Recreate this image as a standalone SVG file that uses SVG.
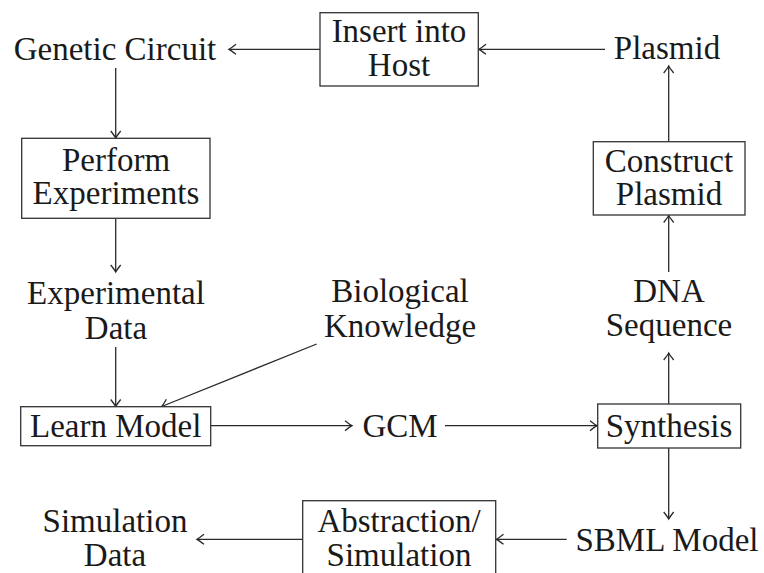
<svg xmlns="http://www.w3.org/2000/svg" width="764" height="573" viewBox="0 0 764 573">
<style>
text{font-family:"Liberation Serif","Times New Roman",serif;font-size:33px;fill:#1a1a1a;text-anchor:middle}
.box{fill:#fff;stroke:#333;stroke-width:1.3}
.edge{stroke:#2a2a2a;stroke-width:1.3;fill:none;marker-end:url(#arr)}
</style>
<defs>
<marker id="arr" viewBox="-8 -6 10 12" refX="0" refY="0" markerWidth="10" markerHeight="12" markerUnits="userSpaceOnUse" orient="auto">
<path d="M-7,-5 Q-2,-1 0,0 Q-2,1 -7,5" fill="none" stroke="#2a2a2a" stroke-width="1.3"/>
</marker>
</defs>
<rect width="764" height="573" fill="#fff"/>
<g id="connectors">
<line class="edge" x1="320" y1="49.3" x2="229" y2="49.3"/>
<line class="edge" x1="605" y1="49.3" x2="479" y2="49.3"/>
<line class="edge" x1="115.7" y1="68" x2="115.7" y2="138"/>
<line class="edge" x1="115.7" y1="218.3" x2="115.7" y2="272"/>
<line class="edge" x1="115.7" y1="347" x2="115.7" y2="406.5"/>
<line class="edge" x1="316.7" y1="344" x2="161.7" y2="406.5"/>
<line class="edge" x1="210.7" y1="425.7" x2="352" y2="425.7"/>
<line class="edge" x1="445" y1="425.7" x2="597" y2="425.7"/>
<line class="edge" x1="668.7" y1="404" x2="668.7" y2="353"/>
<line class="edge" x1="668.7" y1="272" x2="668.7" y2="215.5"/>
<line class="edge" x1="668.7" y1="141.7" x2="668.7" y2="66"/>
<line class="edge" x1="668.7" y1="448" x2="668.7" y2="519"/>
<line class="edge" x1="566.7" y1="539.3" x2="496.5" y2="539.3"/>
<line class="edge" x1="302.7" y1="539.3" x2="197" y2="539.3"/>
</g>
<g id="genetic-circuit"><text x="115" y="60">Genetic Circuit</text></g>
<g id="insert-into-host"><rect class="box" x="320" y="12.7" width="158.3" height="73.3"/><text x="399" y="42">Insert into</text><text x="399" y="76">Host</text></g>
<g id="plasmid"><text x="667" y="59">Plasmid</text></g>
<g id="perform-experiments"><rect class="box" x="21.7" y="138.3" width="188.3" height="80"/><text x="116" y="171">Perform</text><text x="116" y="204">Experiments</text></g>
<g id="construct-plasmid"><rect class="box" x="593.3" y="141.7" width="151.7" height="73.3"/><text x="669" y="172">Construct</text><text x="669" y="205">Plasmid</text></g>
<g id="experimental-data"><text x="116" y="304">Experimental</text><text x="116" y="339">Data</text></g>
<g id="biological-knowledge"><text x="400" y="302">Biological</text><text x="400" y="337">Knowledge</text></g>
<g id="dna-sequence"><text x="669" y="302">DNA</text><text x="669" y="336">Sequence</text></g>
<g id="learn-model"><rect class="box" x="20.7" y="406.7" width="190" height="39"/><text x="115.7" y="437">Learn Model</text></g>
<g id="gcm"><text x="400" y="437">GCM</text></g>
<g id="synthesis"><rect class="box" x="597.7" y="404" width="143" height="44"/><text x="669" y="437">Synthesis</text></g>
<g id="simulation-data"><text x="115" y="532">Simulation</text><text x="115" y="566">Data</text></g>
<g id="abstraction-simulation"><rect class="box" x="302.7" y="500.7" width="193" height="85"/><text x="399" y="532">Abstraction/</text><text x="399" y="566">Simulation</text></g>
<g id="sbml-model"><text x="667" y="551">SBML Model</text></g>
</svg>
